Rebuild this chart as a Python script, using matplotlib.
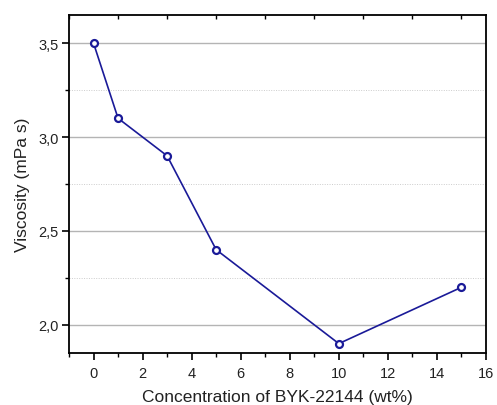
import matplotlib
matplotlib.use('Agg')
import matplotlib.pyplot as plt
from matplotlib.ticker import MultipleLocator, FuncFormatter

conc = [0, 1, 3, 5, 10, 15]
viscosity = [3.5, 3.1, 2.9, 2.4, 1.9, 2.2]

plt.rcParams['font.family'] = ['Liberation Sans', 'DejaVu Sans']

fig = plt.figure(figsize=(4.97, 4.06), dpi=100)
ax = fig.add_axes([69/497, 1 - 354/406, (486-69)/497, (354-16)/406])

ax.plot(conc, viscosity, color='#1a1a98', lw=1.2, marker='o', ms=5,
        mfc='white', mec='#1a1a98', mew=1.6, zorder=3)

ax.set_xlim(-1, 16)
ax.set_ylim(1.85, 3.65)
ax.xaxis.set_major_locator(MultipleLocator(2))
ax.xaxis.set_minor_locator(MultipleLocator(1))
ax.yaxis.set_major_locator(MultipleLocator(0.5))
ax.yaxis.set_minor_locator(MultipleLocator(0.25))
ax.yaxis.set_major_formatter(FuncFormatter(lambda v, p: ('%.1f' % v).replace('.', ',')))

ax.grid(axis='y', which='major', color='#b4b4b4', lw=1.0)
ax.grid(axis='y', which='minor', color='#cccccc', lw=0.7, ls=(0, (1, 1.5)))
ax.set_axisbelow(True)

ax.tick_params(axis='both', which='major', direction='out', length=5, width=1.2,
               labelsize=10.5, colors='black', labelcolor='#222222')
ax.tick_params(axis='both', which='minor', direction='out', length=3, width=1.0)
ax.tick_params(axis='x', which='major', pad=4)
ax.tick_params(axis='y', which='major', pad=2.5)

for s in ax.spines.values():
    s.set_linewidth(1.3)

# top axis: small inward ticks at odd values, no labels
top = ax.secondary_xaxis('top')
top.xaxis.set_major_locator(MultipleLocator(2, offset=1))
top.tick_params(direction='in', length=3, width=1.0, labeltop=False)
top.spines['top'].set_visible(False)

ax.set_xlabel('Concentration of BYK-22144 (wt%)', fontsize=12.5, color='#222222', labelpad=6.5)
ax.set_ylabel('Viscosity (mPa s)', fontsize=12.5, color='#222222', labelpad=6)

fig.savefig('out.png', dpi=100)
